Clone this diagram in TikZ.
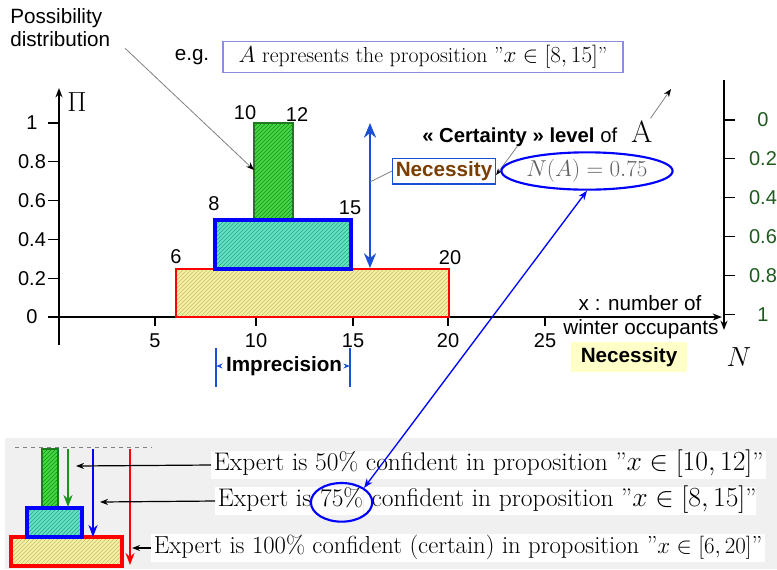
\documentclass[tikz,border=0pt]{standalone}
\usepackage{fontspec}
\newfontfamily\arial{Liberation Sans}
\usetikzlibrary{arrows.meta,positioning,calc,patterns,shapes.geometric}

\definecolor{barYellow}{HTML}{F5F2A8}
\definecolor{hatchYellow}{HTML}{C4BE60}
\definecolor{barTeal}{HTML}{62E3C2}
\definecolor{hatchTeal}{HTML}{2E9E86}
\definecolor{barGreen}{HTML}{44D844}
\definecolor{hatchGreen}{HTML}{1C8A1C}
\definecolor{edgeGreen}{HTML}{1F7A1F}
\definecolor{axisGreen}{HTML}{1E5A1E}
\definecolor{necBrown}{HTML}{7A3E00}
\definecolor{necBg}{HTML}{FFFFC8}
\definecolor{egBlue}{HTML}{8C8CE0}
\definecolor{arrowBlue}{HTML}{1A4FD6}
\definecolor{panelGray}{HTML}{F0F0F0}

\tikzset{
  sanstxt/.style={font=\arial\fontsize{15.5}{17.5}\selectfont},
  sansbold/.style={font=\arial\bfseries\fontsize{15.5}{17.5}\selectfont},
  ticklbl/.style={font=\arial\fontsize{15}{17}\selectfont, inner sep=0pt},
  axisline/.style={line width=1.2pt, -{Stealth[length=7pt]}},
  yellowbar/.style={preaction={fill=barYellow}, pattern=north east lines, pattern color=hatchYellow, draw=red},
  tealbar/.style={preaction={fill=barTeal}, pattern=north east lines, pattern color=hatchTeal, draw=blue},
  greenbar/.style={preaction={fill=barGreen}, pattern=north east lines, pattern color=hatchGreen, draw=edgeGreen},
  expertlbl/.style={font=\fontsize{19.1}{22}\selectfont, fill=white, inner xsep=2pt, inner ysep=2pt, text height=13pt, text depth=4.5pt},
  pointer/.style={-{Stealth[length=6pt]}, line width=0.9pt},
  thinray/.style={gray, line width=0.6pt},
}

\begin{document}
\begin{tikzpicture}[x=0.75pt, y=-0.75pt]
\useasboundingbox (0,0) rectangle (777,569);

% Possibility distribution axes
\draw[axisline] (59,345) -- (59,88);
\draw[axisline] (48,317) -- (722,317);
\node[font=\fontsize{21}{21}\selectfont] (piaxis) at (77,102) {$\Pi$};
\foreach \k/\val in {0/0,1/0.2,2/0.4,3/0.6,4/0.8,5/1} {
  \draw[line width=1pt] (48,{317-38.8*\k}) -- (59,{317-38.8*\k});
  \node[ticklbl] at (32,{317-38.8*\k}) {\val};
}
\foreach \xx/\val in {155/5,256/10,353/15,448/20,545/25} {
  \draw[line width=1pt] (\xx,317) -- (\xx,326);
  \node[ticklbl] at (\xx,341) {\val};
}

% nested focal sets
\draw[yellowbar, line width=1pt] (176,269) rectangle (449,317);
\draw[greenbar, line width=1pt] (254,123) rectangle (293,220);
\draw[tealbar, line width=3pt] (215,220) rectangle (351,269);
\node[ticklbl] at (176,257) {6};
\node[ticklbl] at (214,204) {8};
\node[ticklbl] at (245,113) {10};
\node[ticklbl] at (297,115) {12};
\node[ticklbl] at (350,208) {15};
\node[ticklbl] at (450,258) {20};

% certainty level
\coordinate (certtop) at (370,123);
\coordinate (certbot) at (370,268);
\coordinate (certmid) at (370,182);
\draw[arrowBlue, line width=2.2pt, {Stealth[length=11pt,width=9pt]}-{Stealth[length=11pt,width=9pt]}] (certtop) -- (certbot);
\node[font=\arial\fontsize{15.2}{17}\selectfont, anchor=west, inner sep=0pt] (certainty) at (422,137) {\textbf{« Certainty » level} of};
\node[font=\fontsize{23}{23}\selectfont, anchor=base west, inner sep=0pt] (Aletter) at ([xshift=10pt]certainty.base east) {A};
\coordinate (Aout) at (671,89);
\draw[thinray, -{Stealth[length=6pt,color=black]}] ([shift={(-2,-2)}]Aletter.north east) -- (Aout);
\node[sansbold, text=necBrown, draw=arrowBlue, line width=0.8pt, inner sep=2.5pt] (necbox) at (444,171) {Necessity};
\draw[thinray] (necbox.west) -- (certmid);
\draw[thinray, -{Stealth[length=5pt,color=black]}] ([xshift=-2pt]certainty.south) -- ([yshift=-3pt]necbox.east);
\node[ellipse, draw=blue, line width=1.6pt, minimum width=113pt, minimum height=28pt, inner sep=0pt,
  text=gray!75!black, font=\fontsize{16}{16}\selectfont] (necval) at (587,171) {$N(A)=0.75$};

% second axis for necessity
\draw[axisline] (724,80) -- (724,330);
\foreach \yy/\val in {120/0,158.5/0.2,197.5/0.4,236.5/0.6,275.5/0.8,314.5/1} {
  \draw[line width=1pt] (724,\yy) -- (735,\yy);
  \node[ticklbl, text=axisGreen] at (763,\yy) {\val};
}
\node[sanstxt] (xlabA) at (640,303) {x : number of};
\node[sanstxt] (xlabB) at (641,329) {winter occupants};
\node[sansbold, fill=necBg, minimum width=87pt, minimum height=22pt] (necN) at (629,357) {Necessity};
\node[font=\fontsize{22}{22}\selectfont] (Naxis) at (739,357) {$N$};

% imprecision
\node[sansbold] (imprec) at (284,366) {Imprecision};
\coordinate (impL) at (216,366);
\coordinate (impR) at (350,366);
\draw[arrowBlue, line width=1pt] (216,348) -- (216,387);
\draw[arrowBlue, line width=1pt] (350,348) -- (350,387);
\draw[arrowBlue, line width=0.8pt, -{Stealth[length=5pt]}] (imprec.west) -- (impL);
\draw[arrowBlue, line width=0.8pt, -{Stealth[length=5pt]}] (imprec.east) -- (impR);

% captions at the top
\node[sanstxt, align=left, anchor=north west, inner sep=0pt] (possdist) at (10,8) {Possibility\\distribution};
\coordinate (greenhit) at (254,170);
\draw[thinray, -{Stealth[length=6pt,color=black]}] ([xshift=11pt,yshift=-1pt]possdist.south east) -- (greenhit);
\node[sanstxt] (eg) at (192,57) {e.g.};
\node[draw=egBlue, line width=0.8pt, font=\fontsize{16.3}{18}\selectfont, minimum width=300pt, minimum height=22.5pt]
  (egbox) at (423,57) {$A$ represents the proposition ''$x\in[8,15]$''};

% summary panel
\fill[panelGray] (5,438) rectangle (777,569);
\draw[gray, dashed, line width=0.6pt] (15,447) -- (152,447);
\draw[yellowbar, line width=3pt] (11,537) rectangle (122,566);
\draw[greenbar, line width=1.5pt] (42,449) rectangle (58,508);
\draw[tealbar, line width=3.5pt] (27,508) rectangle (82,537);
\draw[edgeGreen!80!green, line width=1.6pt, -{Stealth[length=9pt]}] (68,449) -- (68,507);
\draw[blue, line width=1.6pt, -{Stealth[length=9pt]}] (93,449) -- (93,537);
\draw[red, line width=1.6pt, -{Stealth[length=9pt]}] (130,449) -- (130,565);
\coordinate (hit50) at (76,466);
\coordinate (hit75) at (100,502);
\coordinate (hit100) at (132,548);

\node[expertlbl, anchor=west] (exp50) at (211,465) {Expert is 50\% confident in proposition ''$x\in[10,12]$''};
\node[expertlbl, anchor=west, inner xsep=0pt] (exp75a) at (215,501) {\hspace{2pt}Expert is\kern6pt\null};
\node[expertlbl, anchor=west, inner xsep=0pt] (pct) at (exp75a.east) {75\%};
\node[expertlbl, anchor=west, inner xsep=0pt] (exp75b) at (pct.east) {\null\kern6pt confident in proposition ''$x\in[8,15]$''\hspace{2pt}};
\node[expertlbl, anchor=west, font=\fontsize{18.5}{22}\selectfont] (exp100) at (151,548) {Expert is 100\% confident (certain) in proposition ''$x\in[6,20]$''};
\node[ellipse, draw=blue, line width=1.6pt, minimum width=46pt, minimum height=29pt] (ring75) at ([yshift=-1pt]pct.center) {};

\draw[pointer] (exp50.west) -- (hit50);
\draw[pointer] (exp75a.west) -- (hit75);
\draw[pointer] (exp100.west) -- (hit100);
\draw[blue, line width=1pt, {Stealth[length=7pt]}-{Stealth[length=7pt]}] (necval.south) -- (ring75.north east);
\end{tikzpicture}
\end{document}
